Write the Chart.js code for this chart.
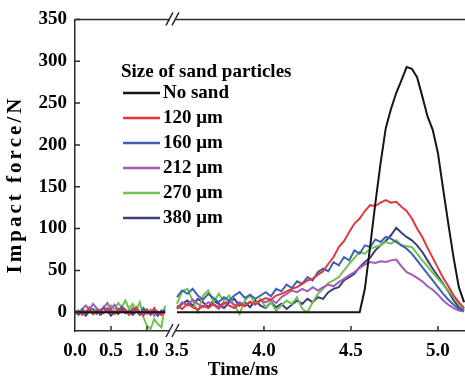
<!DOCTYPE html>
<html>
<head>
<meta charset="utf-8">
<script src="https://cdn.jsdelivr.net/npm/chart.js@4/dist/chart.umd.min.js"></script>
<style>html,body{margin:0;padding:0;background:#fff}</style>
</head>
<body>
<canvas id="chart" width="465" height="383"></canvas>
<script>
// time (ms) of the two recorded segments, the axis is broken between them
const timeLeft = [0.00, 0.05, 0.10, 0.15, 0.20, 0.25, 0.30, 0.35, 0.40, 0.45, 0.50, 0.55, 0.60,
    0.65, 0.70, 0.75, 0.80, 0.85, 0.90, 0.95, 1.00, 1.05, 1.10, 1.15, 1.20, 1.25];
const timeRight = [3.50, 3.53, 3.56, 3.59, 3.62, 3.65, 3.68, 3.71, 3.74, 3.77, 3.80, 3.83, 3.86, 3.89,
    3.92, 3.95, 3.98, 4.01, 4.04, 4.07, 4.10, 4.13, 4.16, 4.19, 4.22, 4.25, 4.28, 4.31, 4.34, 4.37,
    4.40, 4.43, 4.46, 4.49, 4.52, 4.55, 4.58, 4.61, 4.64, 4.67, 4.70, 4.73, 4.76, 4.79, 4.82, 4.85,
    4.88, 4.91, 4.94, 4.97, 5.00, 5.03, 5.06, 5.09, 5.12, 5.15];

const seriesLabels = ['No sand', '120 μm', '160 μm', '212 μm', '270 μm', '380 μm'];
const seriesColors = ['#151515', '#e2383a', '#3d62b3', '#a35cb6', '#72c24f', '#3c3f7e'];

const noSandLeft = [0, 0, 0, 0, 0, 0, 0, 0, 0, 0, 0, 0, 0, 0, 0, 0, 0, 0, 0, 0, 0, 0, 0, 0, 0, 0];
const noSandRight = [0, 0, 0, 0, 0, 0, 0, 0, 0, 0, 0, 0, 0, 0, 0, 0, 0, 0, 0, 0, 0, 0, 0, 0, 0, 0,
    0, 0, 0, 0, 0, 0, 0, 0, 0, 0, 28, 78, 130, 178, 220, 243, 262, 277, 293, 291, 281, 258, 234,
    218, 190, 147, 105, 65, 30, 12];

const s120Left = [-1, 2, -3, 1, 4, -2, 0, 3, -1, 5, 2, -2, 4, 0, 3, -3, 2, 6, 0, -4, 3, -2, 5, -1, -3, 1];
const s120Right = [8, 4, 10, 6, 3, 8, 5, 10, 6, 12, 8, 5, 10, 7, 12, 10, 14, 17, 15, 20, 22, 25, 28,
    30, 34, 38, 40, 45, 49, 58, 66, 78, 85, 96, 106, 112, 121, 128, 127, 131, 134, 131, 132, 126,
    121, 112, 100, 90, 77, 65, 53, 41, 31, 20, 12, 5];

const s160Left = [1, -2, 3, -1, 2, 4, -2, 1, 5, 0, 3, -1, 2, 6, 1, -2, 4, 2, -3, 5, 0, -2, 3, -4, 1, 3];
const s160Right = [18, 26, 22, 28, 20, 15, 22, 17, 12, 18, 14, 20, 24, 17, 21, 16, 20, 24, 19, 28,
    25, 33, 29, 37, 34, 42, 38, 48, 52, 49, 60, 56, 66, 62, 74, 70, 80, 78, 87, 84, 90, 88, 84, 80,
    76, 70, 62, 54, 46, 38, 30, 22, 15, 9, 4, 2];

const s212Left = [2, -2, 4, 8, 3, 10, 5, -1, 6, 11, 4, 9, 2, 7, 3, -2, 5, 1, -3, 4, -2, 3, -4, 1, -3, 2];
const s212Right = [5, 12, 8, 15, 10, 6, 12, 9, 4, 10, 14, 8, 12, 8, 13, 9, 14, 12, 15, 11, 18, 22,
    26, 24, 28, 25, 30, 26, 30, 33, 31, 36, 40, 44, 48, 53, 57, 60, 59, 61, 60, 62, 63, 55, 48, 45,
    41, 37, 31, 27, 21, 14, 9, 5, 2, 1];

const s270Left = [3, -1, 4, 0, 6, -2, 5, 2, 7, 1, 8, 3, 11, 6, 14, 4, 10, 2, 12, -6, -16, -20, -8, -14, -18, 8];
const s270Right = [10, 25, 28, 14, 0, 20, 26, 12, 22, 14, 20, 8, -2, 14, 20, 10, 16, 6, 12, 2, 8,
    14, 10, 18, 4, 0, 12, 22, 28, 35, 38, 42, 50, 58, 65, 72, 70, 76, 78, 80, 84, 82, 86, 80, 79,
    78, 70, 62, 55, 47, 40, 33, 26, 18, 10, 4];

const s380Left = [0, -3, 2, -4, 1, -2, 3, -3, 0, 2, -4, 1, -2, 3, -1, 2, -3, 1, -2, 0, 3, -3, 1, -4, 2, -1];
const s380Right = [4, 10, 14, 8, 16, 12, 6, 14, 10, 5, 12, 16, 8, 12, 6, 14, 8, 5, 12, 6, 10, 4, 9,
    14, 10, 16, 12, 18, 16, 24, 28, 30, 38, 42, 46, 54, 60, 65, 74, 80, 85, 92, 101, 95, 90, 86, 80,
    72, 62, 52, 43, 34, 25, 14, 6, 2];

const xTickTimes = [0, 0.5, 1.0, 3.5, 4.0, 4.5, 5.0];
const xTickLabels = ['0.0', '0.5', '1.0', '3.5', '4.0', '4.5', '5.0'];
const yTicks = [0, 50, 100, 150, 200, 250, 300, 350];

// broken axis: the first segment is drawn compressed, the second one starts after the break
function toAxis(t) {
    if (t < 2) return t * 72 / 174;
    return 0.586 + (t - 3.5);
}

function buildPoints(left, right) {
    const pts = [];
    left.forEach((v, i) => pts.push({ x: toAxis(timeLeft[i]), y: v }));
    pts.push({ x: 0.56, y: null });
    right.forEach((v, i) => pts.push({ x: toAxis(timeRight[i]), y: v }));
    return pts;
}

const allSeries = [
    [noSandLeft, noSandRight], [s120Left, s120Right], [s160Left, s160Right],
    [s212Left, s212Right], [s270Left, s270Right], [s380Left, s380Right]
];

const font = 'bold 19px "Liberation Serif", "Times New Roman", serif';
const axisColor = '#2b2b2b';

const decorPlugin = {
    id: 'decor',
    afterDraw(chart) {
        const ctx = chart.ctx;
        const area = chart.chartArea;
        const xs = chart.scales.x;
        const ys = chart.scales.y;
        ctx.save();

        // top frame line
        ctx.strokeStyle = axisColor;
        ctx.lineWidth = 1.5;
        ctx.beginPath();
        ctx.moveTo(area.left, area.top);
        ctx.lineTo(area.right, area.top);
        ctx.stroke();

        // inward tick marks
        ctx.beginPath();
        yTicks.forEach(v => {
            const y = ys.getPixelForValue(v);
            ctx.moveTo(area.left, y);
            ctx.lineTo(area.left + 5, y);
        });
        [0.5, 1.0, 4.0, 4.5, 5.0].forEach(t => {
            const x = xs.getPixelForValue(toAxis(t));
            ctx.moveTo(x, area.bottom);
            ctx.lineTo(x, area.bottom - 5);
        });
        ctx.stroke();

        // axis break marks
        const bx = xs.getPixelForValue(0.563);
        [area.bottom, area.top].forEach(y => {
            ctx.fillStyle = '#fff';
            ctx.fillRect(bx - 3, y - 2, 5, 4);
            ctx.beginPath();
            ctx.moveTo(bx - 7, y + 6);
            ctx.lineTo(bx, y - 7);
            ctx.moveTo(bx - 1, y + 6);
            ctx.lineTo(bx + 6, y - 7);
            ctx.strokeStyle = axisColor;
            ctx.lineWidth = 1.5;
            ctx.stroke();
        });

        // axis titles
        ctx.fillStyle = '#000';
        ctx.font = font;
        ctx.textAlign = 'center';
        ctx.textBaseline = 'middle';
        ctx.fillText('Time/ms', 243, 370);

        // y title, a little spaced out like in the figure
        const title = 'Impact force/N';
        const spacing = 3;
        ctx.font = 'bold 21px "Liberation Serif", "Times New Roman", serif';
        ctx.translate(16, 186);
        ctx.rotate(-Math.PI / 2);
        ctx.textAlign = 'left';
        let total = 0;
        const widths = [...title].map(ch => ctx.measureText(ch).width);
        widths.forEach(w => total += w);
        total += spacing * (widths.length - 1);
        let pos = -total / 2;
        [...title].forEach((ch, i) => {
            ctx.fillText(ch, pos, 0);
            pos += widths[i] + spacing;
        });
        ctx.restore();

        // legend inside the plot
        ctx.save();
        ctx.font = font;
        ctx.fillStyle = '#000';
        ctx.textBaseline = 'middle';
        ctx.textAlign = 'left';
        ctx.fillText('Size of sand particles', 121, 72);
        chart.data.datasets.forEach((ds, i) => {
            const y = 93 + i * 25;
            ctx.strokeStyle = ds.borderColor;
            ctx.lineWidth = 2.5;
            ctx.beginPath();
            ctx.moveTo(123, y);
            ctx.lineTo(160, y);
            ctx.stroke();
            ctx.fillText(ds.label, 163, y);
        });
        ctx.restore();
    }
};

new Chart(document.getElementById('chart'), {
    type: 'line',
    plugins: [decorPlugin],
    data: {
        datasets: allSeries.map((s, i) => ({
            label: seriesLabels[i],
            data: buildPoints(s[0], s[1]),
            borderColor: seriesColors[i],
            backgroundColor: seriesColors[i],
            borderWidth: 2,
            pointRadius: 0,
            tension: 0,
            spanGaps: false
        }))
    },
    options: {
        responsive: false,
        animation: false,
        devicePixelRatio: 1,
        layout: { padding: { top: 15, right: 0, left: 0, bottom: 0 } },
        plugins: {
            legend: { display: false },
            tooltip: { enabled: false }
        },
        scales: {
            x: {
                type: 'linear',
                min: 0,
                max: 2.2414,
                afterBuildTicks: scale => {
                    scale.ticks = xTickTimes.map(t => ({ value: toAxis(t) }));
                },
                afterFit: scale => { scale.height = 52; },
                grid: { display: false, drawTicks: false },
                border: { display: true, color: axisColor, width: 1.5 },
                ticks: {
                    autoSkip: false,
                    maxRotation: 0,
                    padding: 9,
                    color: '#000',
                    font: { family: '"Liberation Serif", serif', size: 19, weight: 'bold' },
                    callback: (value, index) => xTickLabels[index]
                }
            },
            y: {
                min: -22.4,
                max: 350,
                afterBuildTicks: scale => {
                    scale.ticks = yTicks.map(v => ({ value: v }));
                },
                afterFit: scale => { scale.width = 75; },
                grid: { display: false, drawTicks: false },
                border: { display: true, color: axisColor, width: 1.5 },
                ticks: {
                    padding: 8,
                    color: '#000',
                    font: { family: '"Liberation Serif", serif', size: 19, weight: 'bold' }
                }
            }
        }
    }
});
</script>
</body>
</html>
